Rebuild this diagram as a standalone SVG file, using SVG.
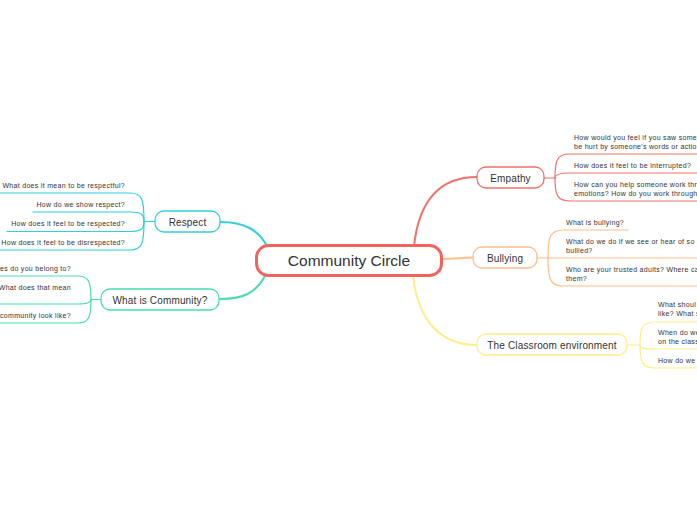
<svg xmlns="http://www.w3.org/2000/svg" width="697" height="520" viewBox="0 0 697 520">
<style>
text{font-family:"Liberation Sans","Noto Sans",sans-serif;fill:#333}
.leaf{font-size:7px;letter-spacing:0.3px}
.main{font-size:10px;text-anchor:middle;letter-spacing:0.15px}
.c{fill:none;stroke-linecap:round}
.red{stroke:#F4706B}
.org{stroke:#FFBE8C}
.yel{stroke:#FFEC8A}
.cya{stroke:#2FCFDC}
.grn{stroke:#48DDB0}
.box{fill:#fff;stroke-width:1.3}
</style>
<rect width="697" height="520" fill="#fff"/>
<g id="connectors">
<path class="c red" stroke-width="2" d="M414,246 C419,200 440,177 477,177"/>
<path class="c org" stroke-width="2" d="M442,259 C455,259 460,257.5 473,257.5"/>
<path class="c yel" stroke-width="2" d="M413,276 C418,320 440,345 477,345"/>
<path class="c cya" stroke-width="2" d="M267,246 C258,230 245,222 220,222"/>
<path class="c grn" stroke-width="2" d="M265,276 C256,292 245,299 220,299"/>
<g class="c red" stroke-width="1.2">
<path d="M544,178 H555"/>
<path d="M555,178 C555,160 557,154 570,154 H700"/>
<path d="M555,178 C555,175 558,173 570,173 H700"/>
<path d="M555,178 C555,195 557,201 570,201 H700"/>
</g>
<g class="c org" stroke-width="1.2">
<path d="M537,258 H548"/>
<path d="M548,258 C548,237 550,230 563,230 H628"/>
<path d="M548,258 H700"/>
<path d="M548,258 C548,279 550,286 563,286 H700"/>
</g>
<g class="c yel" stroke-width="1.2">
<path d="M627,345 H640"/>
<path d="M640,345 C640,328 642,322 655,322 H700"/>
<path d="M640,345 C640,348 643,349 655,349 H700"/>
<path d="M640,345 C640,362 642,368 655,368 H700"/>
</g>
<g class="c cya" stroke-width="1.2">
<path d="M155,221.5 H144"/>
<path d="M144,221.5 C144,199 142,193 130,193 H-2"/>
<path d="M144,221.5 C144,214 141,212 130,212 H33"/>
<path d="M144,221.5 C144,229 141,231.5 130,231.5 H7"/>
<path d="M144,221.5 C144,244 142,250 130,250 H-2"/>
</g>
<g class="c grn" stroke-width="1.2">
<path d="M101,299.5 H91"/>
<path d="M91,299.5 C91,282 89,276 78,276 H-2"/>
<path d="M91,299.5 C91,302 88,304 78,304 H-2"/>
<path d="M91,299.5 C91,317 89,323 78,323 H-2"/>
</g>
</g>
<g id="center">
<rect x="256.5" y="245.5" width="185" height="30" rx="12" fill="#fff" stroke="#F2635E" stroke-width="3"/>
<text x="349" y="266" font-size="15.5" text-anchor="middle">Community Circle</text>
</g>
<g id="empathy">
<rect class="box red" x="477" y="167" width="67" height="21" rx="9"/>
<text class="main" x="510.5" y="181.5">Empathy</text>
<text class="leaf" x="574" y="140">How would you feel if you saw some</text>
<text class="leaf" x="574" y="149">be hurt by someone's words or actio</text>
<text class="leaf" x="574" y="168">How does it feel to be interrupted?</text>
<text class="leaf" x="574" y="187">How can you help someone work thr</text>
<text class="leaf" x="574" y="196">emotions? How do you work through</text>
</g>
<g id="bullying">
<rect class="box org" x="473" y="247" width="64" height="21" rx="9"/>
<text class="main" x="505" y="261.5">Bullying</text>
<text class="leaf" x="566" y="224.5">What is bullying?</text>
<text class="leaf" x="566" y="243.5">What do we do if we see or hear of so</text>
<text class="leaf" x="566" y="252.5">bullied?</text>
<text class="leaf" x="566" y="271.5">Who are your trusted adults? Where ca</text>
<text class="leaf" x="566" y="280.5">them?</text>
</g>
<g id="classroom">
<rect class="box yel" x="477" y="334" width="150" height="21" rx="9"/>
<text class="main" x="552" y="348.5">The Classroom environment</text>
<text class="leaf" x="658" y="307">What shoul</text>
<text class="leaf" x="658" y="316">like? What s</text>
<text class="leaf" x="658" y="335">When do we</text>
<text class="leaf" x="658" y="344">on the class</text>
<text class="leaf" x="658" y="363">How do we</text>
</g>
<g id="respect">
<rect class="box cya" x="155" y="211" width="65" height="21" rx="9"/>
<text class="main" x="187.5" y="225.5">Respect</text>
<g text-anchor="end">
<text class="leaf" x="125" y="187.5">What does it mean to be respectful?</text>
<text class="leaf" x="125" y="206.5">How do we show respect?</text>
<text class="leaf" x="125" y="225.5">How does it feel to be respected?</text>
<text class="leaf" x="125" y="244.5">How does it feel to be disrespected?</text>
</g>
</g>
<g id="community">
<rect class="box grn" x="101" y="289" width="118" height="21" rx="9"/>
<text class="main" x="160" y="303.5">What is Community?</text>
<g text-anchor="end">
<text class="leaf" x="71" y="270.5">es do you belong to?</text>
<text class="leaf" x="71" y="290">What does that mean</text>
<text class="leaf" x="71" y="317.5">community look like?</text>
</g>
</g>
</svg>
